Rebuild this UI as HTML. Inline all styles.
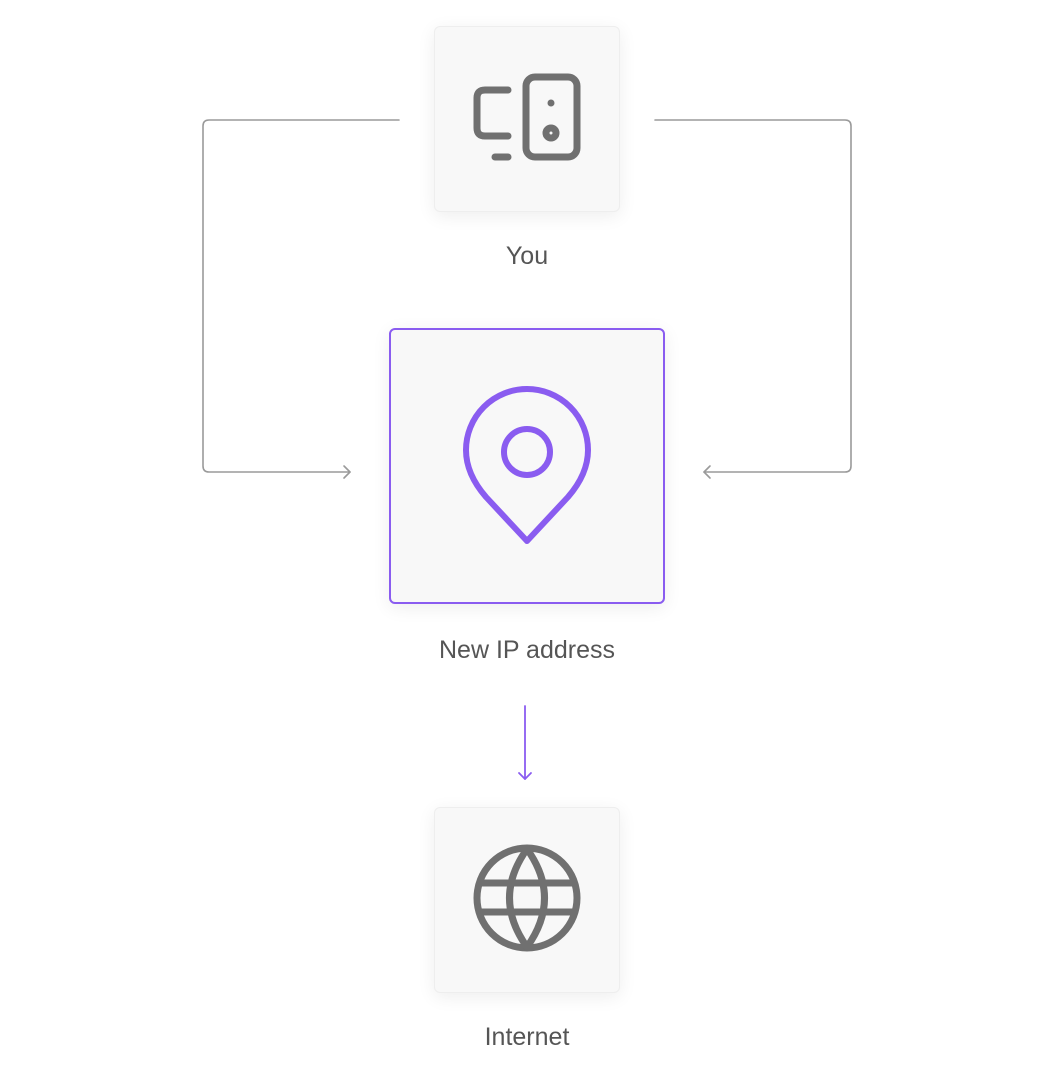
<!DOCTYPE html>
<html><head><meta charset="utf-8"><style>
html,body{margin:0;padding:0;background:#fff;}
body{width:1054px;height:1080px;position:relative;overflow:hidden;font-family:"Liberation Sans",sans-serif;}
.card{position:absolute;background:#f8f8f8;border:1px solid #eee;border-radius:6px;box-shadow:0 4px 18px rgba(0,0,0,0.07);box-sizing:border-box;}
.lbl{position:absolute;width:300px;text-align:center;color:#555;font-size:25px;left:377px;}
svg{position:absolute;left:0;top:0;}
</style></head><body>
<div class="card" style="left:434px;top:26px;width:186px;height:186px;"></div>
<div class="card" style="left:389px;top:328px;width:276px;height:276px;border:2px solid #8a5cf0;"></div>
<div class="card" style="left:434px;top:807px;width:186px;height:186px;"></div>
<div class="lbl" style="top:242px;">You</div>
<div class="lbl" style="top:636px;">New IP address</div>
<div class="lbl" style="top:1023px;">Internet</div>
<svg width="1054" height="1080" viewBox="0 0 1054 1080" fill="none">
<g stroke="#9a9a9a" stroke-width="1.6" stroke-linecap="round" stroke-linejoin="round">
<path d="M399 120 H209 Q203 120 203 126 V466 Q203 472 209 472 H350"/>
<path d="M344 466 L350 472 L344 478"/>
<path d="M655 120 H845 Q851 120 851 126 V466 Q851 472 845 472 H704"/>
<path d="M710 466 L704 472 L710 478"/>
</g>
<g stroke="#8a5cf0" stroke-width="1.8" stroke-linecap="round" stroke-linejoin="round">
<path d="M525 706 V779"/>
<path d="M519 773 L525 779 L531 773"/>
</g>
<g stroke="#707070" stroke-width="7" stroke-linecap="round" stroke-linejoin="round">
<path d="M508 90 H485 Q477 90 477 98 V128 Q477 136 485 136 H508"/>
<path d="M495 157 H508"/>
<rect x="526" y="77" width="51" height="80" rx="9"/>
<circle cx="551" cy="133" r="5"/>
</g>
<circle cx="551" cy="103" r="3.5" fill="#707070"/>
<g stroke="#8a5cf0" stroke-width="6" stroke-linejoin="round">
<path d="M527 541 L486 497 Q466 474 466 450 A61 61 0 0 1 588 450 Q588 474 568 497 Z"/>
<circle cx="527" cy="452" r="23"/>
</g>
<g stroke="#707070" stroke-width="7" stroke-linejoin="round">
<circle cx="527" cy="898" r="50"/>
<path d="M527 849 Q492 898 527 947 Q562 898 527 849 Z"/>
<path d="M479 883 H575 M479 912 H575"/>
</g>
</svg>
</body></html>
